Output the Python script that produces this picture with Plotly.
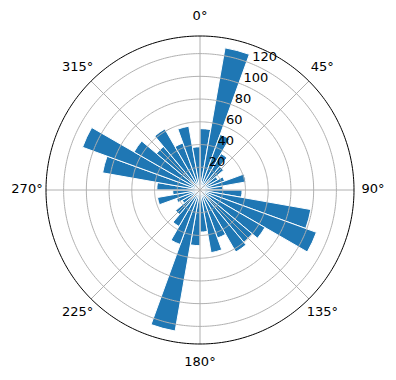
import numpy as np
import plotly.graph_objects as go

# direction bins (degrees, clockwise from north), 10-degree sectors
bin_starts = list(range(0, 360, 10))
counts = [54, 127, 52, 37, 27, 18, 23, 41, 20,
          37, 99, 109, 66, 60, 63, 45, 56, 37,
          49, 126, 51, 37, 28, 18, 22, 38, 24,
          38, 87, 110, 67, 50, 62, 44, 57, 38]
angle_ticks = [0, 45, 90, 135, 180, 225, 270, 315]
angle_labels = [f"{a}°" for a in angle_ticks]
radial_ticks = [20, 40, 60, 80, 100, 120]
radial_labels = [str(v) for v in radial_ticks]

RMAX = 135.5          # data radius of the black rim
cx, cy, R = 200, 190, 154   # rim centre / radius in pixels
W, H = 396, 380
LABEL_PAD = 19        # px between rim and angular label centres
label_r = RMAX * (R + LABEL_PAD) / R
RANGE_MAX = label_r * 1.03
R_dom = R * RANGE_MAX / RMAX

theta_centers = [s + 5 for s in bin_starts]
circle_theta = np.linspace(0, 360, 361)

GRID = "#b0b0b0"
fig = go.Figure()
fig.add_trace(go.Barpolar(
    r=counts,
    theta=theta_centers,
    width=[10] * len(counts),
    marker=dict(color="#1f77b4", line=dict(color="white", width=1)),
    opacity=1,
    hoverinfo="skip",
))
# grid circles (drawn above the bars, as matplotlib does)
for v in radial_ticks:
    fig.add_trace(go.Scatterpolar(
        r=[v] * len(circle_theta), theta=circle_theta, mode="lines",
        line=dict(color=GRID, width=1), hoverinfo="skip",
    ))
# grid spokes
for a in angle_ticks:
    fig.add_trace(go.Scatterpolar(
        r=[0, RMAX], theta=[a, a], mode="lines",
        line=dict(color=GRID, width=1), hoverinfo="skip",
    ))
# outer rim
fig.add_trace(go.Scatterpolar(
    r=[RMAX] * len(circle_theta), theta=circle_theta, mode="lines",
    line=dict(color="black", width=1), hoverinfo="skip",
))
# angular tick labels
fig.add_trace(go.Scatterpolar(
    r=[label_r] * len(angle_ticks), theta=angle_ticks,
    mode="text", text=angle_labels, textposition="middle center",
    textfont=dict(family="DejaVu Sans", size=13, color="black"),
    cliponaxis=False, hoverinfo="skip",
))
# radial tick labels along 22.5 deg
fig.add_trace(go.Scatterpolar(
    r=radial_ticks, theta=[22.5] * len(radial_ticks),
    mode="text", text=radial_labels, textposition="top right",
    textfont=dict(family="DejaVu Sans", size=13, color="black"),
    cliponaxis=False, hoverinfo="skip",
))

fig.update_layout(
    width=W, height=H,
    margin=dict(l=0, r=0, t=0, b=0),
    paper_bgcolor="white",
    showlegend=False,
    font=dict(family="DejaVu Sans", size=13, color="black"),
    polar=dict(
        domain=dict(x=[(cx - R_dom) / W, (cx + R_dom) / W],
                    y=[(H - cy - R_dom) / H, (H - cy + R_dom) / H]),
        bgcolor="rgba(0,0,0,0)",
        bargap=0,
        angularaxis=dict(
            rotation=90, direction="clockwise",
            showticklabels=False, ticks="",
            showgrid=False, showline=False,
        ),
        radialaxis=dict(
            range=[0, RANGE_MAX],
            showticklabels=False, ticks="",
            showgrid=False, showline=False,
        ),
    ),
)
fig.write_html("out.html")
